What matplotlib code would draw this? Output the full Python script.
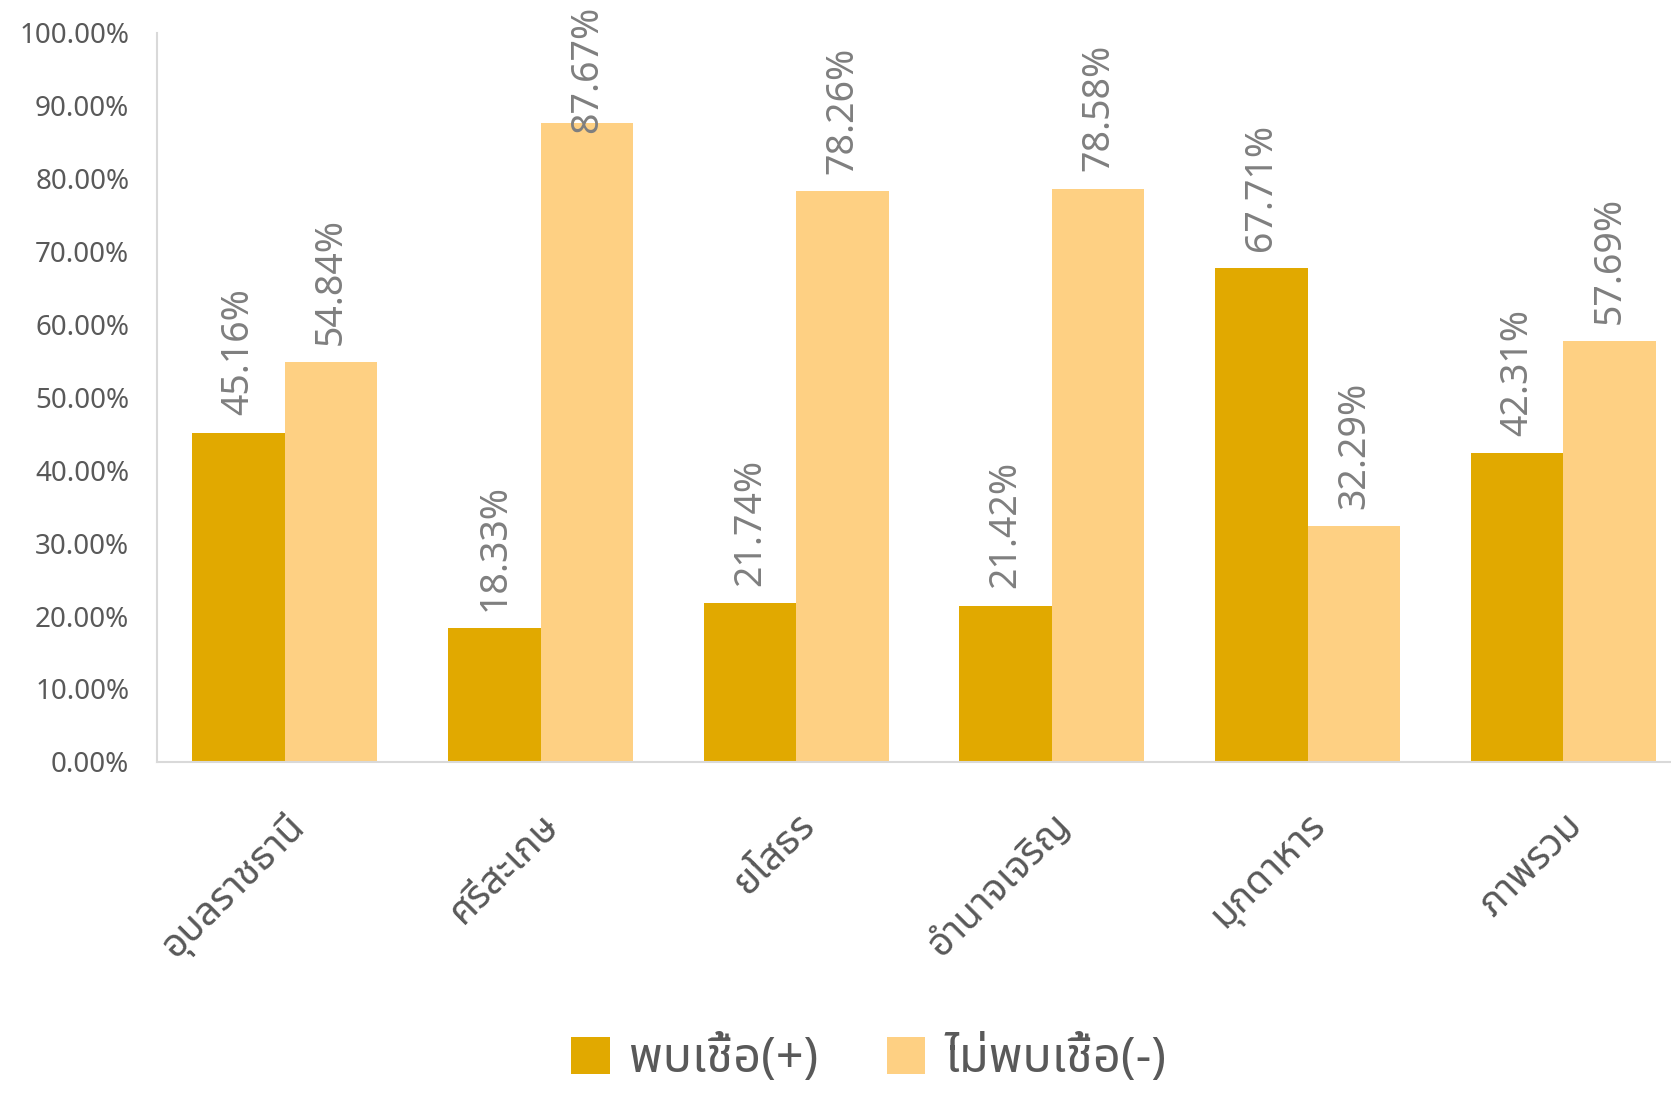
import numpy as np
import matplotlib.pyplot as plt

# Data
provinces = ['อุบลราชธานี', 'ศรีสะเกษ', 'ยโสธร', 'อำนาจเจริญ', 'มุกดาหาร', 'ภาพรวม']
positive = [45.16, 18.33, 21.74, 21.42, 67.71, 42.31]
negative = [54.84, 87.67, 78.26, 78.58, 32.29, 57.69]
series_names = ['พบเชื้อ(+)', 'ไม่พบเชื้อ(-)']

thai = ['Noto Sans Thai', 'IBM Plex Sans Thai', 'Loma', 'DejaVu Sans']
plt.rcParams['font.family'] = ['Noto Sans', 'Noto Sans Thai', 'Loma', 'DejaVu Sans']

fig = plt.figure(figsize=(16.71, 10.93), dpi=100)
ax = fig.add_axes([0.094, 0.303, 0.918, 0.667])

x = np.arange(len(provinces))
w = 0.362
b1 = ax.bar(x - w / 2, np.array(positive) / 100, w, color='#E1A900', label=series_names[0])
b2 = ax.bar(x + w / 2, np.array(negative) / 100, w, color='#FED083', label=series_names[1])

# data labels sit just above the bar, but are pushed down when they would leave the chart
for bars, vals in [(b1, positive), (b2, negative)]:
    for r, v in zip(bars, vals):
        ypos = min(v / 100 + 0.024, 0.863)
        ax.text(r.get_x() + r.get_width() / 2, ypos, f'{v:.2f}%', rotation=90,
                ha='center', va='bottom', fontsize=27, color='#7F7F7F', clip_on=False)

ticks = np.arange(0, 1.01, 0.1)
ax.set_xlim(-0.5, len(provinces) - 0.5)
ax.set_ylim(0, 1)
ax.set_yticks(ticks)
ax.set_yticklabels([f'{t * 100:.2f}%' for t in ticks], fontsize=20, color='#595959')
ax.set_xticks(x)
ax.set_xticklabels(provinces, rotation=45, ha='right', rotation_mode='anchor',
                   fontsize=28, color='#595959', family=thai)
ax.tick_params(length=0)
ax.tick_params(axis='y', pad=20)
ax.tick_params(axis='x', pad=32)

for s in ['top', 'right']:
    ax.spines[s].set_visible(False)
for s in ['left', 'bottom']:
    ax.spines[s].set_color('#D9D9D9')
    ax.spines[s].set_linewidth(1.5)

fig.legend(loc='lower center', bbox_to_anchor=(0.52, -0.032), ncol=2, frameon=False,
           handlelength=0.8, handleheight=0.8, handletextpad=0.4,
           columnspacing=1.4, labelcolor='#595959', prop={'family': thai, 'size': 35})

fig.savefig('out.png', dpi=100)
